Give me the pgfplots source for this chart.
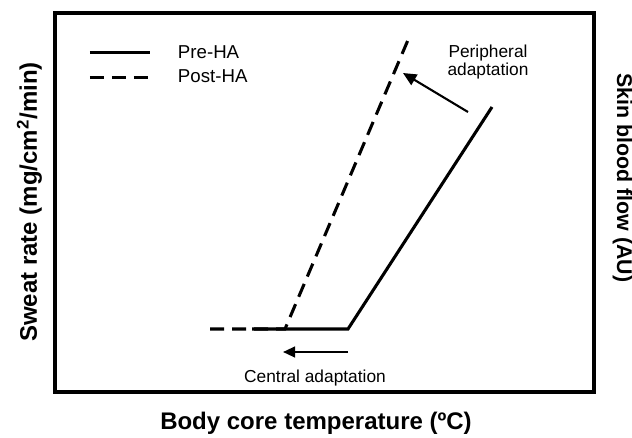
\documentclass[border=0pt]{standalone}
\usepackage{pgfplots}
\pgfplotsset{compat=1.18}
\usepackage{fontspec}
\setmainfont{Liberation Sans}
\usetikzlibrary{arrows.meta}
\begin{document}
\begin{tikzpicture}[x=0.75pt,y=0.75pt]
\begin{axis}[
  scale only axis,
  width=404.25pt, height=284.25pt,
  xmin=55, xmax=594, ymin=45, ymax=424,
  axis line style={line width=2.3pt},
  xtick=\empty, ytick=\empty,
  clip=false,
  legend style={draw=none, fill=none, at={(axis cs:84,372)}, anchor=west,
    font=\fontsize{14}{16}\selectfont,
    nodes={font=\fontsize{14}{16}\selectfont},
    row sep=3pt,
    /tikz/every odd column/.append style={column sep=18pt}},
  legend cell align=left,
  legend image code/.code={\draw[#1] (0pt,0pt) -- (45pt,0pt);},
]
% Pre-HA (solid)
\addplot[line width=2.3pt, black] coordinates {(252,108) (348,108) (492,330)};
\addlegendentry{Pre-HA}
% Post-HA (dashed)
\addplot[line width=2.3pt, black, dash pattern=on 10.5pt off 6pt] coordinates {(210,108) (285,108) (408,397)};
\addlegendentry{Post-HA}
% adaptation arrows
\addplot[line width=1.6pt, black, -{Triangle[length=10pt,width=9pt]}, forget plot] coordinates {(468,325) (403,364)};
\addplot[line width=1.6pt, black, -{Triangle[length=9pt,width=8pt]}, forget plot] coordinates {(348,85) (283,85)};
\node[anchor=base, font=\fontsize{13}{15}\selectfont] at (axis cs:488,380) {Peripheral};
\node[anchor=base, font=\fontsize{13}{15}\selectfont] at (axis cs:488,362) {adaptation};
\node[anchor=base, font=\fontsize{13}{15}\selectfont] at (axis cs:315,55) {Central adaptation};
\node[anchor=base, font=\bfseries\fontsize{18}{20}\selectfont] at (axis cs:316,8) {Body core temperature (ºC)};
\node[anchor=base, rotate=90, font=\bfseries\fontsize{18}{20}\selectfont] at (axis cs:37,235) {Sweat rate (mg/cm\textsuperscript{2}/min)};
\node[anchor=base, rotate=-90, font=\bfseries\fontsize{16}{18}\selectfont] at (axis cs:617,259) {Skin blood flow (AU)};
\coordinate (BL) at (axis cs:0,0);
\coordinate (TR) at (axis cs:632,437);
\end{axis}
\pgfresetboundingbox
\path (BL) rectangle (TR);
\end{tikzpicture}
\end{document}
